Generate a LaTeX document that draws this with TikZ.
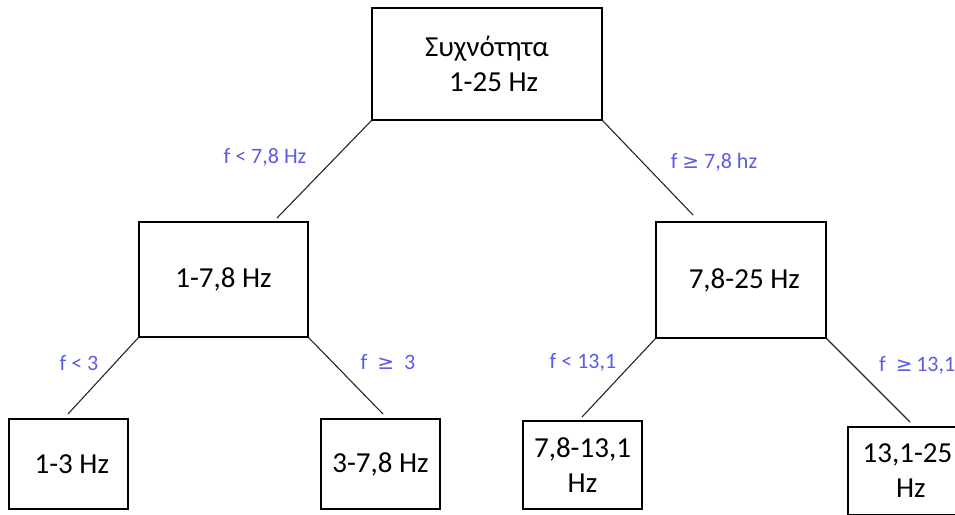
\documentclass[tikz,border=0pt]{standalone}
\usepackage{fontspec}
\setmainfont{Carlito}
\newfontfamily\symfont{DejaVu Sans}
\newcommand{\geqmark}{{\symfont\fontsize{20}{26}\selectfont ≥}}
\definecolor{condblue}{RGB}{92,92,228}

\begin{document}
\begin{tikzpicture}[x=1pt,y=-1pt,
   box/.style={draw,line width=1.6pt,align=center,inner sep=0pt,
               font=\fontsize{29}{35}\selectfont},
   cond/.style={text=condblue,inner sep=0pt,font=\fontsize{22}{26}\selectfont}]
   \useasboundingbox (0,0) rectangle (955,514);
   \clip (0,0) rectangle (955,514);
   % boxes, one per frequency band
   \node[box,minimum width=230pt,minimum height=112pt] (root) at (487,64) {Συχνότητα\\ \ \ 1-25 Hz};
   \node[box,minimum width=169pt,minimum height=115pt] (low) at (223.5,279.5) {1-7,8 Hz};
   \node[box,minimum width=170pt,minimum height=116pt] (high) at (741,280) {\ 7,8-25 Hz};
   \node[box,minimum width=119pt,minimum height=90pt] (lowa) at (68.5,464) {\ 1-3 Hz};
   \node[box,minimum width=119pt,minimum height=90pt] (lowb) at (380.5,464) {3-7,8 Hz};
   \node[box,minimum width=119pt,minimum height=88pt] (higha) at (582.5,465) {7,8-13,1\\ Hz};
   \node[box,minimum width=119pt,minimum height=88pt] (highb) at (907.5,471) {13,1-25\\ \ Hz};
   % loose ends of the branches
   \coordinate (tl) at (277,218);
   \coordinate (tr) at (693,215);
   \coordinate (ll) at (68,414);
   \coordinate (lr) at (383,414);
   \coordinate (rl) at (582,417);
   \coordinate (rr) at (910,422);
   \foreach \from/\to in {root.south west/tl,root.south east/tr,
                          low.south west/ll,low.south east/lr,
                          high.south west/rl,high.south east/rr}
      \draw[line width=1.1pt,black!85] (\from) -- (\to);
   % split conditions
   \node[cond] (ctl) at (265,157) {f < 7,8 Hz};
   \node[cond] (ctr) at (714,162) {f \geqmark{} 7,8 hz};
   \node[cond] (cll) at (79,363) {f < 3};
   \node[cond] (clr) at (388,362) {f \ \geqmark{} \ 3};
   \node[cond] (crl) at (583,362) {f < 13,1};
   \node[cond,anchor=west] (crr) at (879,365) {f \ \geqmark\,13,1};
\end{tikzpicture}
\end{document}
